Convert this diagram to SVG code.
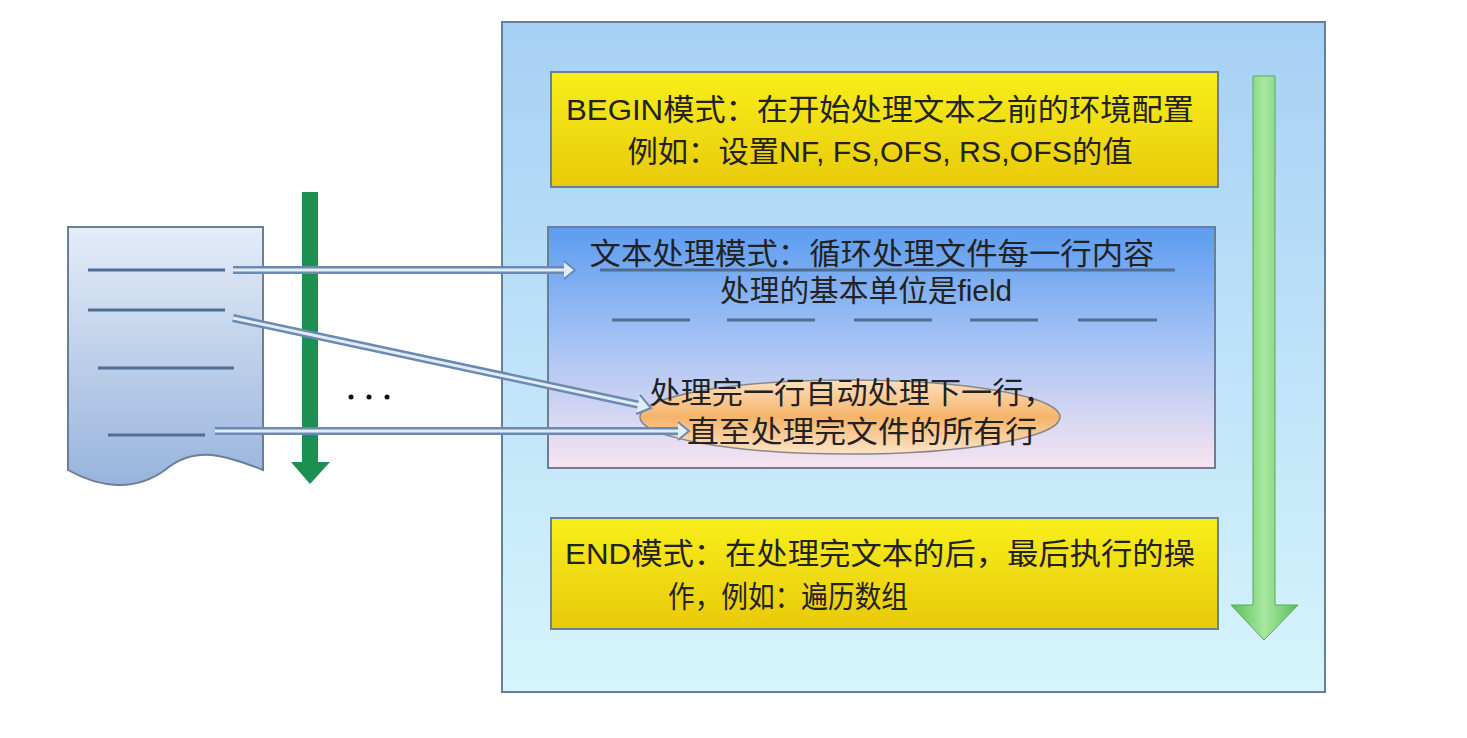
<svg xmlns="http://www.w3.org/2000/svg" width="1467" height="738" viewBox="0 0 1467 738">
<defs>
<linearGradient id="gOuter" x1="0" y1="0" x2="0" y2="1"><stop offset="0" stop-color="#a6d0f4"/><stop offset="1" stop-color="#d6f4fc"/></linearGradient>
<linearGradient id="gYel" x1="0" y1="0" x2="0" y2="1"><stop offset="0" stop-color="#f7ef1a"/><stop offset="1" stop-color="#e9c90a"/></linearGradient>
<linearGradient id="gMid" x1="0" y1="0" x2="0" y2="1"><stop offset="0" stop-color="#5c9cf0"/><stop offset="0.5" stop-color="#a8c4f4"/><stop offset="1" stop-color="#f8e4f0"/></linearGradient>
<linearGradient id="gEll" x1="0" y1="0" x2="0" y2="1"><stop offset="0" stop-color="#fde0c0"/><stop offset="0.5" stop-color="#f6b46a"/><stop offset="1" stop-color="#fde4c8"/></linearGradient>
<linearGradient id="gDoc" x1="0" y1="0" x2="0" y2="1"><stop offset="0" stop-color="#e4ecf8"/><stop offset="1" stop-color="#98b4dc"/></linearGradient>
<linearGradient id="gGr" x1="0" y1="0" x2="1" y2="0"><stop offset="0" stop-color="#58c058"/><stop offset="0.5" stop-color="#a8e8a0"/><stop offset="1" stop-color="#58c058"/></linearGradient>
</defs>
<style>
.t{font-family:"Liberation Sans","Noto Sans CJK SC",sans-serif;font-size:30px;fill:#222;text-anchor:middle}
.box{stroke:#6a7f95;stroke-width:2}
.dl{stroke:#4e6e94;stroke-width:3}
.co{stroke:#6a8ab4;stroke-width:8;fill:none}
.ci{stroke:#e2ecf8;stroke-width:3;fill:none}
</style>
<g id="outer"><rect x="502" y="22" width="823" height="670" fill="url(#gOuter)" class="box"/></g>
<g id="flowArrow"><polygon points="1253,76 1275,76 1275,605 1298,605 1264,640 1231,605 1253,605" fill="url(#gGr)" stroke="#5aa85a" stroke-width="1"/></g>
<g id="begin"><rect x="551" y="72" width="667" height="115" fill="url(#gYel)" class="box"/>
<text class="t" x="880" y="120" textLength="628" lengthAdjust="spacingAndGlyphs">BEGIN模式：在开始处理文本之前的环境配置</text>
<text class="t" x="880" y="162" textLength="505" lengthAdjust="spacingAndGlyphs">例如：设置NF, FS,OFS, RS,OFS的值</text></g>
<g id="main"><rect x="548" y="227" width="667" height="241" fill="url(#gMid)" class="box"/>
<text class="t" x="872" y="264" textLength="565" lengthAdjust="spacingAndGlyphs">文本处理模式：循环处理文件每一行内容</text>
<line x1="600" y1="270" x2="1175" y2="270" class="dl" stroke-width="2"/>
<text class="t" x="866" y="301" textLength="292" lengthAdjust="spacingAndGlyphs">处理的基本单位是field</text>
<g class="dl"><line x1="612" y1="320" x2="690" y2="320"/><line x1="727" y1="320" x2="815" y2="320"/><line x1="854" y1="320" x2="932" y2="320"/><line x1="970" y1="320" x2="1038" y2="320"/><line x1="1078" y1="320" x2="1157" y2="320"/></g></g>
<g id="loop"><ellipse cx="850" cy="417" rx="210" ry="37" fill="url(#gEll)" stroke="#888" stroke-width="1.5"/>
<text class="t" x="852" y="403" textLength="405" lengthAdjust="spacingAndGlyphs">处理完一行自动处理下一行，</text>
<text class="t" x="862" y="442" textLength="350" lengthAdjust="spacingAndGlyphs">直至处理完文件的所有行</text></g>
<g id="end"><rect x="551" y="518" width="667" height="111" fill="url(#gYel)" class="box"/>
<text class="t" x="880" y="564" textLength="630" lengthAdjust="spacingAndGlyphs">END模式：在处理完文本的后，最后执行的操</text>
<text class="t" x="788" y="607" textLength="240" lengthAdjust="spacingAndGlyphs">作，例如：遍历数组</text></g>
<g id="doc"><path d="M68,227 H263 V470 C225,455 195,445 165,470 C135,492 100,488 68,470 Z" fill="url(#gDoc)" stroke="#6a7f95" stroke-width="2"/>
<g class="dl"><line x1="88" y1="270" x2="225" y2="270"/><line x1="88" y1="310" x2="225" y2="310"/><line x1="98" y1="368" x2="234" y2="368"/><line x1="108" y1="435" x2="205" y2="435"/></g></g>
<g id="readArrow"><polygon points="302,192 318,192 318,462 330,462 310,484 291,462 302,462" fill="#1c9050"/></g>
<g id="dots" fill="#111"><circle cx="351" cy="397" r="2.5"/><circle cx="369" cy="397" r="2.5"/><circle cx="387" cy="397" r="2.5"/></g>
<g id="connectors">
<path class="co" d="M233,270 H566"/><path class="ci" d="M233,270 H566"/>
<polyline points="564,261 575,270 564,279" fill="#e2ecf8" stroke="#6a8ab4" stroke-width="2"/>
<path class="co" d="M233,318 L640,405"/><path class="ci" d="M233,318 L640,405"/>
<polyline points="640,395 651,408 636,414" fill="#e2ecf8" stroke="#6a8ab4" stroke-width="2"/>
<path class="co" d="M215,431 H680"/><path class="ci" d="M215,431 H680"/>
<polyline points="678,422 689,431 678,440" fill="#e2ecf8" stroke="#6a8ab4" stroke-width="2"/>
</g>
</svg>
